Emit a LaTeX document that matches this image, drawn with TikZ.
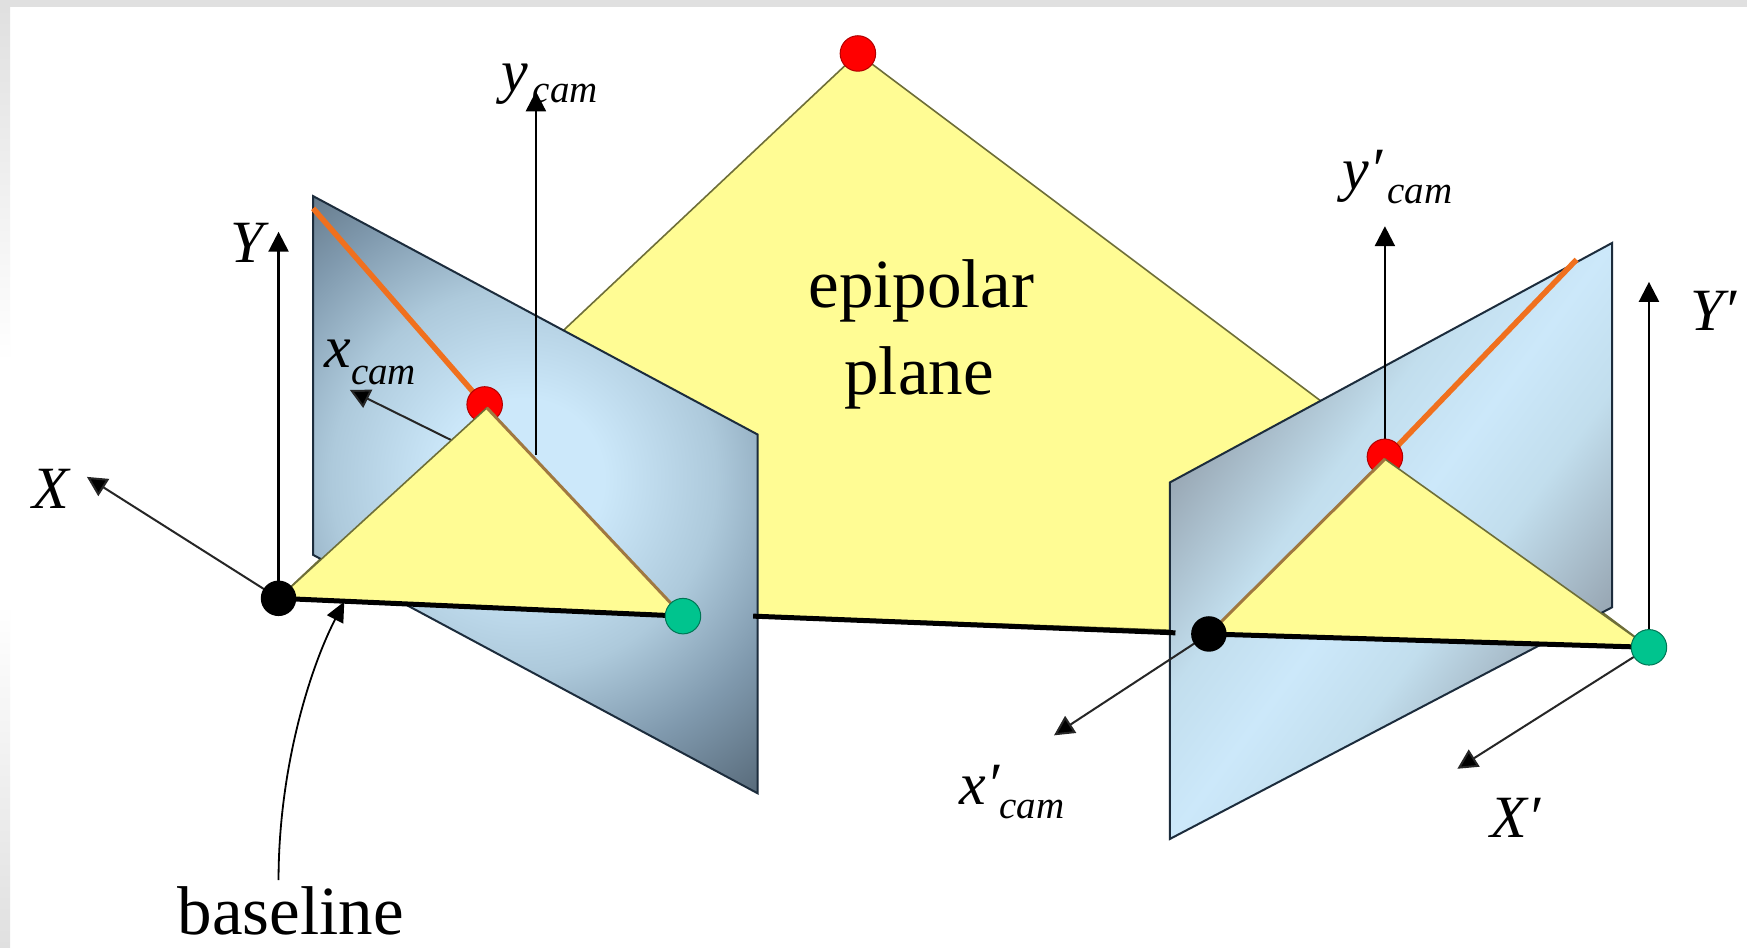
\documentclass[tikz,border=0pt]{standalone}
\usepackage{fontspec}
\setmainfont{Liberation Serif}
\usetikzlibrary{arrows.meta}
\definecolor{paneYellow}{HTML}{FFFC94}
\definecolor{edgeOlive}{HTML}{6E6E38}
\definecolor{edgeNavy}{HTML}{1C2C3C}
\definecolor{rayOrange}{HTML}{F0701E}
\definecolor{rayBrown}{HTML}{A07840}
\definecolor{spotRed}{HTML}{FF0000}
\definecolor{spotGreen}{HTML}{00C48E}
\definecolor{frameGray}{HTML}{E0E0E0}
\pgfdeclareradialshading{leftpanel}{\pgfpoint{0bp}{0bp}}{
  rgb(0bp)=(0.80,0.91,0.98);
  rgb(5bp)=(0.80,0.91,0.98);
  rgb(12bp)=(0.68,0.79,0.86);
  rgb(18bp)=(0.50,0.60,0.68);
  rgb(25bp)=(0.33,0.40,0.46);
  rgb(50bp)=(0.33,0.40,0.46)}
\pgfdeclareverticalshading{rightpanel}{100bp}{
  rgb(0bp)=(0.60,0.66,0.71);
  rgb(33bp)=(0.60,0.66,0.71);
  rgb(43bp)=(0.76,0.87,0.93);
  rgb(50bp)=(0.80,0.91,0.98);
  rgb(57bp)=(0.76,0.87,0.93);
  rgb(67bp)=(0.60,0.66,0.71);
  rgb(100bp)=(0.60,0.66,0.71)}
\tikzset{
  axisline/.style={draw=black,line width=2.4pt,-{Triangle[length=20pt,width=20pt]}},
  thinaxis/.style={draw=black!85,line width=2pt,-{Triangle[length=20pt,width=20pt,fill=black]}},
  baseline seg/.style={draw=black,line width=5pt},
  panel edge/.style={draw=edgeNavy,line width=2pt,line join=miter},
  wedge/.style={fill=paneYellow,draw=edgeOlive,line width=1.6pt,line join=miter},
  spot/.style={circle,inner sep=0pt,minimum size=35.5pt},
  lab/.style={inner sep=0pt,anchor=base west},
  biglab/.style={inner sep=0pt,anchor=base,font=\fontsize{69}{69}\selectfont},
}
\newcommand{\mainf}{\fontsize{60}{60}\selectfont\itshape}
\newcommand{\subf}{\fontsize{39}{39}\selectfont\itshape}
\begin{document}
\begin{tikzpicture}[x=1.1142pt,y=-1.1142pt]
\useasboundingbox (0,0) rectangle (1568,850);
% frame
\fill[white] (0,0) rectangle (1568,850);
\fill[frameGray] (0,0) rectangle (1568,6);
\shade[top color=frameGray,bottom color=white] (0,6) rectangle (9,325);
\shade[top color=white,bottom color=frameGray] (0,542) rectangle (9,850);
% points
\coordinate (P) at (770,48);
\coordinate (C) at (250,537);
\coordinate (Cp) at (1480,581);
\coordinate (E) at (613,553);
\coordinate (Ep) at (1085,569);
\coordinate (Q) at (437,366);
\coordinate (Qp) at (1243,412);
% epipolar plane
\path[wedge] (P) -- (C) -- (Cp) -- cycle;
% left image plane
\coordinate (LA) at (281,176);
\coordinate (LB) at (680,390);
\coordinate (LC) at (680,712);
\coordinate (LD) at (281,498);
\begin{scope}
  \clip (LA) -- (LB) -- (LC) -- (LD) -- cycle;
  \shade[shading=leftpanel] (110,70) rectangle (830,790);
\end{scope}
\draw[panel edge] (LA) -- (LB) -- (LC) -- (LD) -- cycle;
% right image plane
\coordinate (RA) at (1050,433);
\coordinate (RB) at (1447,218);
\coordinate (RC) at (1447,545);
\coordinate (RD) at (1050,753);
\begin{scope}
  \clip (RA) -- (RB) -- (RC) -- (RD) -- cycle;
  \shade[shading=rightpanel,shading angle=53.4] (968.5,205.5) rectangle (1528.5,765.5);
\end{scope}
\draw[panel edge] (RA) -- (RB) -- (RC) -- (RD) -- cycle;
% camera axes behind wedges
\coordinate (ycamTip) at (481,82);
\coordinate (ycamBase) at (481,408);
\draw[axisline] (ycamBase) -- (ycamTip);
\coordinate (xcamBase) at (405,395);
\coordinate (xcamTip) at (314,350);
\draw[thinaxis] (xcamBase) -- (xcamTip);
\coordinate (ypTip) at (1243,203);
\draw[axisline] (Qp) -- (ypTip);
% rays
\coordinate (rayL) at (281,187);
\coordinate (rayR) at (1415,233);
\draw[rayOrange,line width=5.5pt] (rayL) -- (Q);
\draw[rayOrange,line width=5.5pt] (rayR) -- (Qp);
% small wedges
\node[spot,fill=spotRed,draw=black!30!spotRed,line width=1pt] (qL) at (435,363) {};
\node[spot,fill=spotRed,draw=black!30!spotRed,line width=1pt] (qR) at (1243,410) {};
\path[wedge] (Q) -- (C) -- (E) -- cycle;
\path[wedge] (Qp) -- (Ep) -- (Cp) -- cycle;
\draw[rayBrown,line width=3pt] (Q) -- (E);
\draw[rayBrown,line width=3pt] (Qp) -- (Ep);
% axes
\coordinate (YTip) at (250,208);
\draw[axisline] (C) -- (YTip);
\coordinate (XTip) at (78,428);
\draw[thinaxis] (C) -- (XTip);
\coordinate (YpTip) at (1480,253);
\draw[axisline] (Cp) -- (YpTip);
\coordinate (XpTip) at (1308,690);
\draw[thinaxis] (Cp) -- (XpTip);
\coordinate (xpTip) at (946,660);
\draw[thinaxis] (Ep) -- (xpTip);
% baseline
\coordinate (gapA) at (676,553);
\coordinate (gapB) at (1055,568);
\draw[baseline seg] (C) -- (E);
\draw[baseline seg] (gapA) -- (gapB);
\draw[baseline seg] (Ep) -- (Cp);
% dots
\node[spot,fill=spotRed,draw=black!30!spotRed,line width=1pt] (qTop) at (P) {};
\node[spot,fill=black] (cL) at (C) {};
\node[spot,fill=black] (eR) at (Ep) {};
\node[spot,fill=spotGreen,draw=black!40!spotGreen,line width=1pt] (eL) at (E) {};
\node[spot,fill=spotGreen,draw=black!40!spotGreen,line width=1pt] (cR) at (Cp) {};
% baseline pointer
\node[biglab] (baselineLab) at (261,839) {baseline};
\coordinate (ptrTip) at (309,540);
\coordinate (ptrFoot) at (250,790);
\draw[draw=black,line width=1.8pt,-{Triangle[length=20pt,width=18pt]}] (ptrFoot) .. controls (250,690) and (278,600) .. (ptrTip);
% labels
\node[biglab] (lab1) at (827,276) {epipolar};
\node[biglab] (lab2) at (825,354) {plane};
\node[lab] (lY) at (207,236) {\mainf Y};
\node[lab] (lX) at (29,456) {\mainf X};
\node[lab] (lYp) at (1517,297) {\mainf Y′};
\node[lab] (lXp) at (1338,752) {\mainf X′};
\node[lab] (lyc) at (450,82) {\mainf y};
\node[lab] (lyc2) at (478,92) {\subf cam};
\node[lab] (lxc) at (291,330) {\mainf x};
\node[lab] (lxc2) at (315,345) {\subf cam};
\node[lab] (lypc) at (1205,170) {\mainf y′};
\node[lab] (lypc2) at (1245,183) {\subf cam};
\node[lab] (lxpc) at (861,722) {\mainf x′};
\node[lab] (lxpc2) at (897,735) {\subf cam};
\end{tikzpicture}
\end{document}
